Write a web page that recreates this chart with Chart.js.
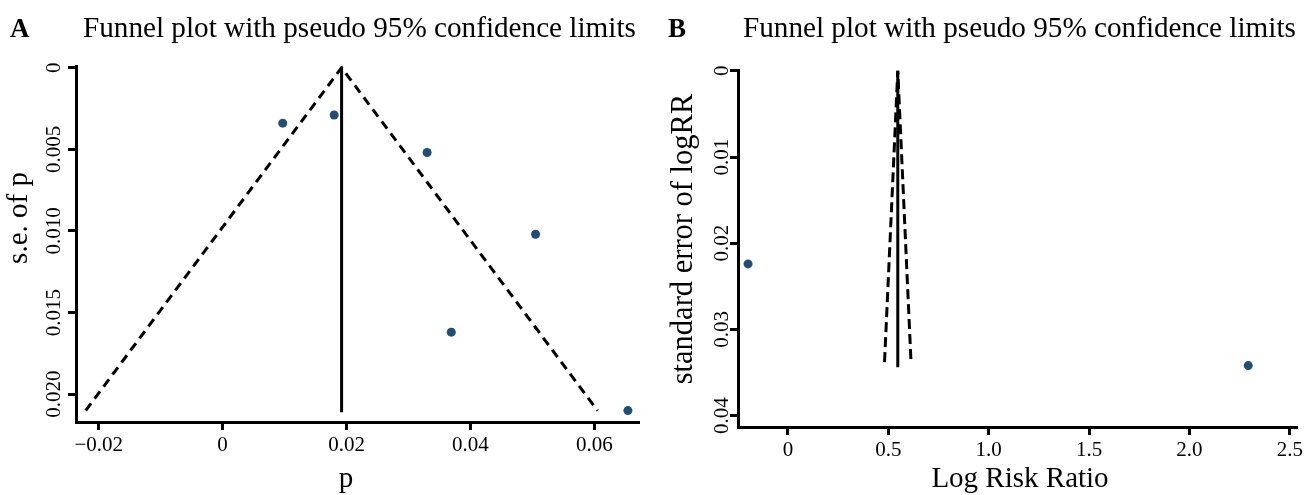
<!DOCTYPE html>
<html>
<head>
<meta charset="utf-8">
<script src="https://cdn.jsdelivr.net/npm/chart.js@4.4.1/dist/chart.umd.min.js"></script>
<style>
    html, body { margin: 0; padding: 0; background: #fff; }
    #wrap { display: flex; width: 1306px; height: 495px; }
    canvas { display: block; }
</style>
</head>
<body>
<div id="wrap">
    <canvas id="chartA" width="653" height="495"></canvas>
    <canvas id="chartB" width="653" height="495"></canvas>
</div>
<script>
// panel A - proportion p
const studyP = [0.0097, 0.0180, 0.0330, 0.0505, 0.0369, 0.0654];
const studySeP = [0.0034, 0.0029, 0.0052, 0.0102, 0.0162, 0.0210];
const funnelP = [-0.0221, 0.0192, 0.0605];
const funnelSeP = [0.0210, 0, 0.0210];
const pooledP = [0.0192, 0.0192];
const pooledSeP = [0, 0.0211];
const ticksXA = [-0.02, 0, 0.02, 0.04, 0.06];
const tickLabelsXA = ['\u22120.02', '0', '0.02', '0.04', '0.06'];
const ticksYA = [0, 0.005, 0.010, 0.015, 0.020];
const tickLabelsYA = ['0', '0.005', '0.010', '0.015', '0.020'];

// panel B - log risk ratio
const studyLogRR = [-0.199, 2.293];
const studySeLogRR = [0.0224, 0.0342];
const funnelLogRR = [0.481, 0.547, 0.613];
const funnelSeLogRR = [0.0338, 0, 0.0338];
const pooledLogRR = [0.547, 0.547];
const pooledSeLogRR = [0, 0.0344];
const ticksXB = [0, 0.5, 1.0, 1.5, 2.0, 2.5];
const tickLabelsXB = ['0', '0.5', '1.0', '1.5', '2.0', '2.5'];
const ticksYB = [0, 0.01, 0.02, 0.03, 0.04];
const tickLabelsYB = ['0', '0.01', '0.02', '0.03', '0.04'];

const FONT = '"Liberation Serif", "Times New Roman", serif';
const POINT_COLOR = '#1F4E79';

function toXY(xs, ys) {
    return xs.map((x, i) => ({ x: x, y: ys[i] }));
}

// draws panel letter, title, axis titles and the rotated y tick labels
const panelText = {
    id: 'panelText',
    afterDraw(chart, args, opts) {
        const ctx = chart.ctx;
        const ys = chart.scales.y;
        ctx.save();
        ctx.fillStyle = '#000';

        ctx.textAlign = 'left';
        ctx.textBaseline = 'alphabetic';
        ctx.font = 'bold 27px ' + FONT;
        ctx.fillText(opts.letter, opts.letterX, 37);
        ctx.font = '29.2px ' + FONT;
        ctx.fillText(opts.title, opts.titleX, 37);

        // y tick labels, reading bottom to top
        ctx.font = '21px ' + FONT;
        ctx.textAlign = 'center';
        ctx.textBaseline = 'middle';
        ys.ticks.forEach((t, i) => {
            ctx.save();
            ctx.translate(opts.yTickX, ys.getPixelForValue(t.value));
            ctx.rotate(-Math.PI / 2);
            ctx.fillText(opts.yTickLabels[i], 0, 0);
            ctx.restore();
        });

        // axis titles
        ctx.font = '29px ' + FONT;
        ctx.textBaseline = 'alphabetic';
        ctx.fillText(opts.xTitle, opts.xTitleX, 487);

        ctx.save();
        ctx.font = opts.yTitleSize + 'px ' + FONT;
        ctx.translate(opts.yTitleX, opts.yTitleY);
        ctx.rotate(-Math.PI / 2);
        ctx.fillText(opts.yTitle, 0, 0);
        ctx.restore();

        ctx.restore();
    }
};

function makePanel(id, p) {
    const axisLine = { display: true, color: '#000', width: 3 };
    const tickMarks = { drawOnChartArea: false, drawTicks: true, tickLength: 8, lineWidth: 3, color: '#000' };

    return new Chart(document.getElementById(id), {
        type: 'scatter',
        data: {
            datasets: [
                {
                    label: 'funnel',
                    data: toXY(p.funnelX, p.funnelY),
                    showLine: true,
                    borderColor: '#000',
                    borderWidth: 3,
                    borderDash: p.dash,
                    pointRadius: 0,
                    fill: false
                },
                {
                    label: 'pooled',
                    data: toXY(p.pooledX, p.pooledY),
                    showLine: true,
                    borderColor: '#000',
                    borderWidth: 3,
                    pointRadius: 0,
                    fill: false
                },
                {
                    label: 'studies',
                    data: toXY(p.studyX, p.studyY),
                    backgroundColor: POINT_COLOR,
                    borderWidth: 0,
                    pointRadius: 4.5
                }
            ]
        },
        options: {
            responsive: false,
            animation: false,
            layout: { padding: p.padding },
            plugins: {
                legend: { display: false },
                tooltip: { enabled: false },
                panelText: p.text
            },
            scales: {
                x: {
                    type: 'linear',
                    position: 'bottom',
                    min: p.xMin,
                    max: p.xMax,
                    afterBuildTicks: (scale) => { scale.ticks = p.xTicks.map(v => ({ value: v })); },
                    afterFit: (scale) => { scale.height = p.xAxisHeight; },
                    border: axisLine,
                    grid: tickMarks,
                    ticks: {
                        color: '#000',
                        padding: 3,
                        font: { family: FONT, size: 21 },
                        callback: (value, index) => p.xTickLabels[index]
                    }
                },
                y: {
                    type: 'linear',
                    reverse: true,
                    min: p.yMin,
                    max: p.yMax,
                    afterBuildTicks: (scale) => { scale.ticks = p.yTicks.map(v => ({ value: v })); },
                    afterFit: (scale) => { scale.width = p.yAxisWidth; },
                    border: axisLine,
                    grid: tickMarks,
                    ticks: { display: false }
                }
            }
        },
        plugins: [panelText]
    });
}

makePanel('chartA', {
    studyX: studyP, studyY: studySeP,
    funnelX: funnelP, funnelY: funnelSeP,
    pooledX: pooledP, pooledY: pooledSeP,
    dash: [9, 6],
    xMin: -0.02366, xMax: 0.06703,
    yMin: -0.0001, yMax: 0.0217,
    xTicks: ticksXA, xTickLabels: tickLabelsXA,
    yTicks: ticksYA,
    padding: { top: 66, right: 15, left: 0, bottom: 0 },
    xAxisHeight: 73, yAxisWidth: 76,
    text: {
        letter: 'A', letterX: 10,
        title: 'Funnel plot with pseudo 95% confidence limits', titleX: 83,
        yTickX: 54, yTickLabels: tickLabelsYA,
        xTitle: 'p', xTitleX: 346,
        yTitle: 's.e. of p', yTitleSize: 29, yTitleX: 27, yTitleY: 218
    }
});

makePanel('chartB', {
    studyX: studyLogRR, studyY: studySeLogRR,
    funnelX: funnelLogRR, funnelY: funnelSeLogRR,
    pooledX: pooledLogRR, pooledY: pooledSeLogRR,
    dash: [10, 5],
    xMin: -0.249, xMax: 2.535,
    yMin: -0.0001, yMax: 0.04133,
    xTicks: ticksXB, xTickLabels: tickLabelsXB,
    yTicks: ticksYB,
    padding: { top: 70, right: 6, left: 0, bottom: 0 },
    xAxisHeight: 68, yAxisWidth: 85,
    text: {
        letter: 'B', letterX: 15,
        title: 'Funnel plot with pseudo 95% confidence limits', titleX: 90,
        yTickX: 69, yTickLabels: tickLabelsYB,
        xTitle: 'Log Risk Ratio', xTitleX: 367,
        yTitle: 'standard error of logRR', yTitleSize: 30.5, yTitleX: 39, yTitleY: 239
    }
});
</script>
</body>
</html>
